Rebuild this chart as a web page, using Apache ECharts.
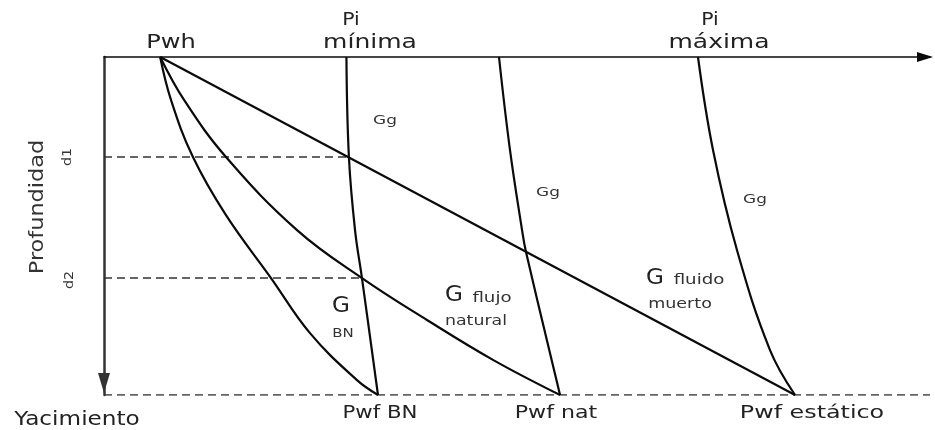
<!DOCTYPE html>
<html>
<head>
<meta charset="utf-8">
<script src="https://cdn.jsdelivr.net/npm/echarts@6/dist/echarts.min.js"></script>
<style>
html,body{margin:0;padding:0;background:#fff;}
#chart{width:935px;height:430px;}
</style>
</head>
<body>
<div id="chart"></div>
<script>
// Pressure (x) and depth (y) in arbitrary units, depth grows downward
const pressureRange = [0, 100];
const depthRange = [0, 100];
const depthMarks = [29.6, 65.4];           // d1, d2
const depthMarkNames = ['d1', 'd2'];
const reservoirDepth = [100];

// Gradient curves from Pwh (wellhead) down to bottom hole
const curveBN = [[6.8,0],[8.11,12.7],[10.77,29.6],[14.77,46.8],[20.22,65.4],[24.94,81.7],[30.63,95.6],[33.17,100]];
const curveNatural = [[6.8,0],[9.69,12.7],[14.77,29.6],[23.37,51.2],[31.23,65.4],[39.1,77.8],[47.09,89.6],[55.21,100]];
const curveDeadFluid = [[6.8,0],[83.66,100]];
// Gas gradient curves
const gasMin = [[29.35,0],[29.65,29.6],[30.39,51.2],[31.23,65.4],[33.17,100]];
const gasMid = [[47.82,0],[49.15,27.5],[50.61,51.2],[51.09,57.7],[55.21,100]];
const gasMax = [[71.91,0],[73.73,27.5],[76.63,57.1],[80.63,86.7],[83.66,100]];
// Dashed reference lines end points (pressure)
const d1End = [29.65];
const d2End = [31.23];

const chart = echarts.init(document.getElementById('chart'));
const black = '#0a0a0a';
const FF = '"DejaVu Sans", Verdana, sans-serif';

function solid(data) {
  return { type: 'line', data: data, smooth: 0.4, showSymbol: false, symbol: 'none',
    lineStyle: { color: black, width: 2.2 }, z: 3, silent: true };
}
function dashed(data) {
  return { type: 'line', data: data, showSymbol: false, symbol: 'none',
    lineStyle: { color: '#333', width: 1.5, type: [8, 5] }, z: 2, silent: true };
}
function txt(text, x, y, size, opts) {
  opts = opts || {};
  return { type: 'text', x: x, y: y, rotation: opts.rot || 0, scaleX: opts.sx || 1.25,
    z: 10, silent: true,
    style: { text: text, fontSize: size, fontFamily: FF, fill: opts.fill || '#222',
      align: 'center', verticalAlign: 'middle' } };
}

const option = {
  animation: false,
  grid: { left: 104, top: 57, width: 826, height: 338, containLabel: false },
  xAxis: {
    type: 'value', position: 'top', min: pressureRange[0], max: pressureRange[1],
    axisLine: { show: true, onZero: false, symbol: ['none', 'triangle'], symbolSize: [10, 16], symbolOffset: [0, -5],
      lineStyle: { color: black, width: 1.5 } },
    axisTick: { show: false }, axisLabel: { show: false }, splitLine: { show: false }
  },
  yAxis: {
    type: 'value', inverse: true, min: depthRange[0], max: depthRange[1],
    axisLine: { show: true, onZero: false, symbol: ['triangle', 'none'], symbolSize: [12, 20], symbolOffset: [12, 0],
      lineStyle: { color: '#333', width: 2.5 } },
    axisTick: { show: false }, axisLabel: { show: false }, splitLine: { show: false }
  },
  series: [
    dashed([[0, depthMarks[0]], [d1End[0], depthMarks[0]]]),
    dashed([[0, depthMarks[1]], [d2End[0], depthMarks[1]]]),
    dashed([[0, reservoirDepth[0]], [pressureRange[1], reservoirDepth[0]]]),
    solid(curveBN),
    solid(curveNatural),
    solid(curveDeadFluid),
    solid(gasMin),
    solid(gasMid),
    solid(gasMax)
  ],
  graphic: [
    txt('Pwh', 171, 43, 19, { sx: 1.27 }),
    txt('Pi', 351, 21, 17, { sx: 1.2 }),
    txt('mínima', 370, 43, 20, { sx: 1.25 }),
    txt('Pi', 710, 21, 17, { sx: 1.2 }),
    txt('máxima', 719, 43, 20, { sx: 1.25 }),
    txt('Gg', 385, 121, 13, { sx: 1.3, fill: '#333' }),
    txt('Gg', 548, 193, 13, { sx: 1.3, fill: '#333' }),
    txt('Gg', 755, 200, 13, { sx: 1.3, fill: '#333' }),
    txt(depthMarkNames[0], 68, 157, 13, { rot: Math.PI / 2, sx: 1.1, fill: '#333' }),
    txt(depthMarkNames[1], 70, 280, 13, { rot: Math.PI / 2, sx: 1.1, fill: '#333' }),
    txt('Profundidad', 38, 207, 20, { rot: Math.PI / 2, sx: 1.12, fill: '#333' }),
    txt('G', 341, 307, 21, { sx: 1.1 }),
    txt('BN', 343, 334, 13, { sx: 1.15, fill: '#333' }),
    txt('G', 454, 296, 21, { sx: 1.1 }),
    txt('flujo', 492, 298, 14, { sx: 1.3, fill: '#333' }),
    txt('natural', 476, 321, 14, { sx: 1.24, fill: '#333' }),
    txt('G', 655, 279, 21, { sx: 1.1 }),
    txt('fluido', 699, 280, 14, { sx: 1.3, fill: '#333' }),
    txt('muerto', 680, 304, 14, { sx: 1.25, fill: '#333' }),
    txt('Pwf BN', 380, 414, 17, { sx: 1.25 }),
    txt('Pwf nat', 556, 414, 17, { sx: 1.3 }),
    txt('Pwf estático', 812, 414, 17, { sx: 1.4 }),
    txt('Yacimiento', 77, 420, 19, { sx: 1.22 })
  ]
};
chart.setOption(option);
</script>
</body>
</html>
